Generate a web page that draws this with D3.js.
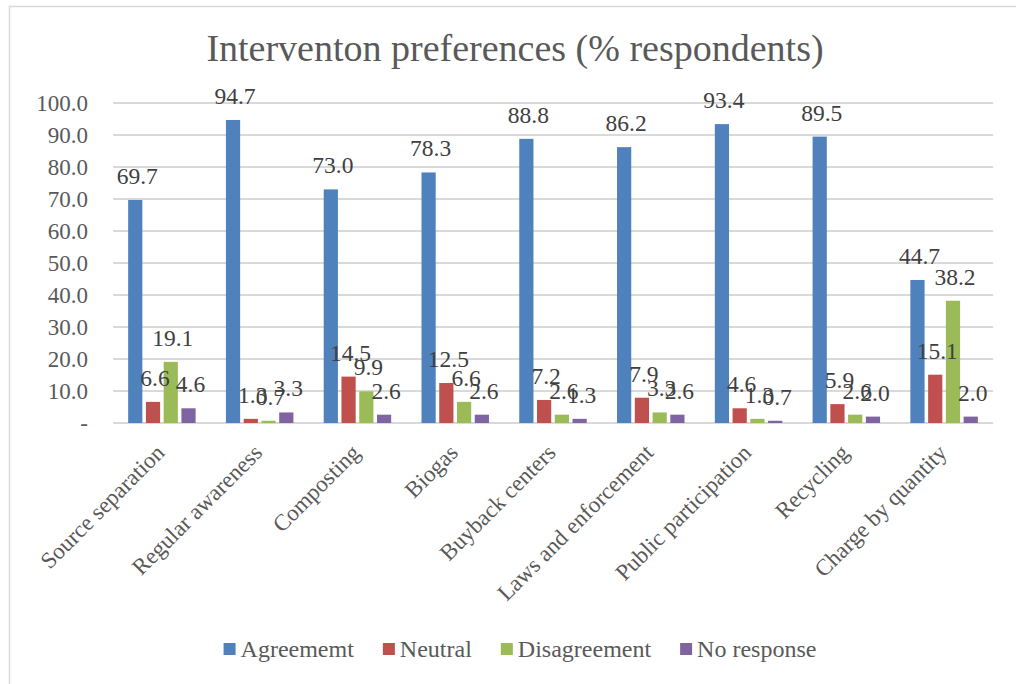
<!DOCTYPE html>
<html>
<head>
<meta charset="utf-8">
<script src="https://cdn.jsdelivr.net/npm/d3@7"></script>
<style>
  html, body { margin: 0; padding: 0; background: #fff; }
  svg { display: block; font-family: "Liberation Serif", "Times New Roman", serif; }
</style>
</head>
<body>
<svg id="chart" width="1016" height="684"></svg>
<script>
// Intervention preference survey: share of respondents per answer
const categories = [
  "Source separation", "Regular awareness", "Composting", "Biogas",
  "Buyback centers", "Laws and enforcement", "Public participation",
  "Recycling", "Charge by quantity"
];
const seriesNames = ["Agreememt", "Neutral", "Disagreement", "No response"];
const agreement    = [69.7, 94.7, 73.0, 78.3, 88.8, 86.2, 93.4, 89.5, 44.7];
const neutral      = [6.6, 1.3, 14.5, 12.5, 7.2, 7.9, 4.6, 5.9, 15.1];
const disagreement = [19.1, 0.7, 9.9, 6.6, 2.6, 3.3, 1.3, 2.6, 38.2];
const noResponse   = [4.6, 3.3, 2.6, 2.6, 1.3, 2.6, 0.7, 2.0, 2.0];
const yTicks = [0, 10, 20, 30, 40, 50, 60, 70, 80, 90, 100];
const colors = ["#4F81BD", "#C0504D", "#9BBB59", "#8064A2"];

const seriesValues = [agreement, neutral, disagreement, noResponse];

const svg = d3.select("#chart");
const plot = { left: 113, right: 993, top: 103, bottom: 423 };
const serif = "Liberation Serif, Times New Roman, serif";

// Outer chart frame
svg.append("rect")
  .attr("x", 9.5).attr("y", 6.5)
  .attr("width", 1016).attr("height", 700)
  .attr("fill", "#fff").attr("stroke", "#d9d9d9").attr("stroke-width", 1.5);

// Title
svg.append("text")
  .attr("x", 515).attr("y", 61)
  .attr("text-anchor", "middle")
  .attr("fill", "#595959")
  .attr("font-size", 38)
  .text("Interventon preferences (% respondents)");

const x0 = d3.scaleBand().domain(categories)
  .range([plot.left, plot.right]).paddingInner(0.31).paddingOuter(0.155);
const x1 = d3.scaleBand().domain(d3.range(seriesNames.length))
  .range([0, x0.bandwidth()]).paddingInner(0.2);
const y = d3.scaleLinear().domain([0, 100]).range([plot.bottom, plot.top]);

// Gridlines
svg.append("g").selectAll("line").data(yTicks).join("line")
  .attr("x1", plot.left).attr("x2", plot.right)
  .attr("y1", d => Math.round(y(d))).attr("y2", d => Math.round(y(d)))
  .attr("stroke", "#d9d9d9").attr("stroke-width", 2);

// Y axis labels
const yAxis = d3.axisLeft(y).tickValues(yTicks)
  .tickFormat(d => d === 0 ? "-" : d.toFixed(1)).tickSize(0).tickPadding(0);
svg.append("g").attr("transform", `translate(88,0)`).call(yAxis)
  .attr("font-family", serif)
  .call(g => g.select(".domain").remove())
  .call(g => g.selectAll("text")
    .attr("fill", "#595959").attr("font-size", 23)
    .attr("dy", "0.34em"));

// Bars
const groups = svg.append("g").selectAll("g").data(categories).join("g")
  .attr("transform", d => `translate(${x0(d)},0)`);

const cells = (c, i) => seriesValues.map((s, k) => ({ k, v: s[i] }));

groups.selectAll("rect")
  .data(cells)
  .join("rect")
  .attr("x", d => x1(d.k))
  .attr("width", x1.bandwidth())
  .attr("y", d => y(d.v))
  .attr("height", d => y(0) - y(d.v))
  .attr("fill", d => colors[d.k]);

// Value labels
groups.selectAll("text.val")
  .data(cells)
  .join("text")
  .attr("class", "val")
  .attr("x", d => x1(d.k) + x1.bandwidth() / 2 + 2)
  .attr("y", d => y(d.v) - 16)
  .attr("text-anchor", "middle")
  .attr("fill", "#404040")
  .attr("font-size", 23.5)
  .text(d => d.v.toFixed(1));

// Category labels, rotated
svg.append("g").selectAll("text").data(categories).join("text")
  .attr("transform", d => `translate(${x0(d) + x0.bandwidth() / 2 + 4},454) rotate(-45)`)
  .attr("text-anchor", "end")
  .attr("fill", "#595959")
  .attr("font-size", 23)
  .text(d => d);

// Legend, centred below the plot
const legend = svg.append("g").attr("transform", "translate(0,657)");
const items = legend.selectAll("g").data(seriesNames).join("g");
items.append("rect")
  .attr("x", 0).attr("y", -14).attr("width", 12).attr("height", 12)
  .attr("fill", (d, i) => colors[i]);
items.append("text")
  .attr("x", 17).attr("y", 0)
  .attr("fill", "#595959")
  .attr("font-size", 24)
  .text(d => d);
let cursor = 0;
const offsets = [];
items.each(function () {
  offsets.push(cursor);
  const w = d3.select(this).select("text").node().getComputedTextLength();
  cursor += 17 + w + 29;
});
const total = cursor - 29;
const start = 520 - total / 2;
items.attr("transform", (d, i) => `translate(${start + offsets[i]},0)`);
</script>
</body>
</html>
